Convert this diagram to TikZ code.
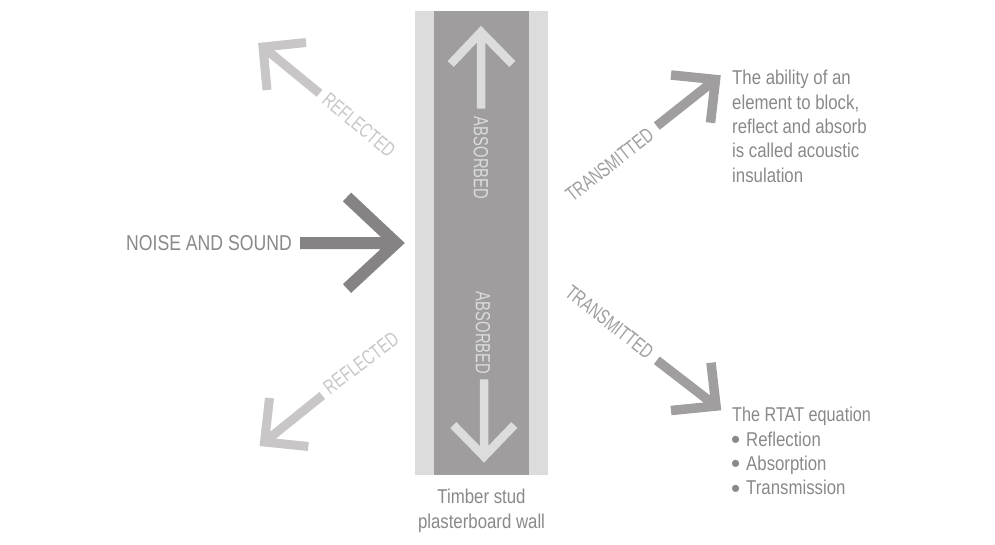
\documentclass[tikz,border=0pt]{standalone}
\usepackage{fontspec}
\setmainfont{Liberation Sans}
\newfontfamily\bodyfont[FakeStretch=0.84]{Liberation Sans}
\newfontfamily\narrowbody[FakeStretch=0.81]{Liberation Sans}
\newfontfamily\labelfont[FakeStretch=0.72]{Liberation Sans}
\newfontfamily\headfont[FakeStretch=0.82]{Liberation Sans}
\newfontfamily\bulletfont{Liberation Sans}
\definecolor{wallout}{HTML}{DCDCDC}
\definecolor{wallin}{HTML}{9F9D9D}
\definecolor{noisec}{HTML}{858383}
\definecolor{reflc}{HTML}{C8C6C6}
\definecolor{transc}{HTML}{A09E9E}
\definecolor{textc}{HTML}{8A8888}
\newcommand{\bigbullet}{\makebox[14pt][l]{\hspace{-1.2pt}\raisebox{-2.5pt}{\bulletfont\fontsize{26}{24.3}\selectfont\textbullet}}}
\tikzset{
  arrowline/.style={draw,line join=miter,miter limit=10,line cap=butt},
  noisearrow/.style={arrowline,color=noisec,line width=12pt},
  reflarrow/.style={arrowline,color=reflc,line width=9pt},
  transarrow/.style={arrowline,color=transc,line width=9.5pt},
  absarrow/.style={arrowline,color=wallout,line width=8.5pt},
  bodytext/.style={inner sep=0pt,text=textc,font=\bodyfont\fontsize{20}{24.3}\selectfont},
  smalllabel/.style={inner sep=0pt,font=\labelfont\fontsize{20.5}{22}\selectfont}
}
\begin{document}
\begin{tikzpicture}[x=1pt,y=-1pt]
\useasboundingbox (0,0) rectangle (995,544);
% wall
\fill[wallout] (415,11) rectangle (547.5,474.5);
\fill[wallin] (433.5,11) rectangle (529,474.5);
% coordinates
\coordinate (nS) at (300,243); \coordinate (nV) at (396,243); \coordinate (nA) at (347,197); \coordinate (nB) at (347,288.5);
\coordinate (rtS) at (319.5,93.3); \coordinate (rtV) at (263,47); \coordinate (rtA) at (306,42.5); \coordinate (rtB) at (267,90);
\coordinate (rbS) at (322.3,395.5); \coordinate (rbV) at (264.5,442); \coordinate (rbA) at (308.3,446.5); \coordinate (rbB) at (269.5,398);
\coordinate (atS) at (481,108.7); \coordinate (atV) at (481,32); \coordinate (atA) at (450.7,64); \coordinate (atB) at (512.3,64);
\coordinate (abS) at (484,379.3); \coordinate (abV) at (484,456.5); \coordinate (abA) at (453.3,425); \coordinate (abB) at (514.3,425);
\coordinate (tuS) at (656.8,126); \coordinate (tuV) at (715.5,79.5); \coordinate (tuA) at (671,75); \coordinate (tuB) at (710.5,122.7);
\coordinate (tlS) at (656.8,360.3); \coordinate (tlV) at (716,406); \coordinate (tlA) at (671,410.5); \coordinate (tlB) at (711,362.7);
% arrows
\path[noisearrow] (nA)--(nV)--(nB) (nS)--(nV);
\path[reflarrow] (rtA)--(rtV)--(rtB) (rtS)--(rtV);
\path[reflarrow] (rbA)--(rbV)--(rbB) (rbS)--(rbV);
\path[absarrow] (atA)--(atV)--(atB) (atS)--(atV);
\path[absarrow] (abA)--(abV)--(abB) (abS)--(abV);
\path[transarrow] (tuA)--(tuV)--(tuB) (tuS)--(tuV);
\path[transarrow] (tlA)--(tlV)--(tlB) (tlS)--(tlV);
% labels
\node[inner sep=0pt,anchor=base west,text=textc,font=\headfont\fontsize{21.5}{22}\selectfont] (noise) at (126,250.5) {NOISE AND SOUND};
\node[smalllabel,text=reflc,rotate=-40] (lrt) at (359,125) {REFLECTED};
\node[smalllabel,text=reflc,rotate=37] (lrb) at (361,363) {REFLECTED};
\node[smalllabel,text=wallout,rotate=-90] (lat) at (481,158) {ABSORBED};
\node[smalllabel,text=wallout,rotate=-90] (lab) at (483,333) {ABSORBED};
\node[smalllabel,text=transc,rotate=38] (ltu) at (609.5,165) {TRANSMITTED};
\node[smalllabel,text=transc,rotate=-38] (ltl) at (609.5,322) {TRANSMITTED};
\node[bodytext,anchor=north west,align=left] (t1) at (732,70.3) {The ability of an\\element to block,\\reflect and absorb\\is called acoustic\\insulation};
\node[bodytext,anchor=north west,align=left] (t2) at (732,407) {{\narrowbody The RTAT equation}\\\bigbullet Reflection\\\bigbullet Absorption\\\bigbullet Transmission};
\node[bodytext,anchor=north,align=center,font=\bodyfont\fontsize{20}{25.7}\selectfont] (t3) at (481.5,488.5) {Timber stud\\plasterboard wall};
\end{tikzpicture}
\end{document}
